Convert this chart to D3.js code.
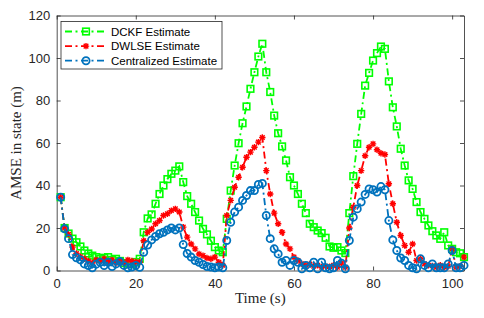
<!DOCTYPE html>
<html><head><meta charset="utf-8">
<script src="https://cdn.jsdelivr.net/npm/d3@7"></script>
<style>body{margin:0;background:#fff}svg{display:block}</style>
</head><body><svg id="c" width="484" height="318"></svg>
<script>
const time = d3.range(1, 104);
const dckf = [34.5,20,17.4,15,13.3,11.3,9.4,8,7,6.3,5.5,6,6.3,5,5.5,4.5,3.5,3.2,3,4,5.5,
  18,24.5,26.4,31.4,36,40,43,45.5,47,49,41.6,35,31.4,27.5,23.5,19.6,17,14,11,9.4,8.6,
  24.3,37.6,49.4,59.9,69.3,77.2,85.5,93.3,100.7,106.7,
  93.3,84,72.9,64.6,58.4,51.8,43.9,40,36,31.4,27,22,20.4,18.8,17.6,15.4,11.3,10.7,11,9.4,8.2,
  27,44.4,59.6,73.7,87,93,98.8,102.3,105.4,104.3,
  89,76.8,67.8,57.3,49.4,42.4,38.4,32.2,27.5,24.3,21.2,18.5,16.5,14.9,18,11.8,10.2,8.6,8.1,6.3];
const dwlse = [34.5,20,17,11,8,6.5,5.5,4.5,3.5,5,4.5,5.5,4,5,3.5,4.5,3.5,5,4.5,4,4,
  14,18,19.5,22,23.5,25.9,26.7,28.2,29,27.5,20.4,15.7,12.5,10.2,7.8,7,5.9,5.5,6.3,3.9,2.5,
  25.9,33,39.2,43.9,48.6,53.3,55.7,58,60.4,62.6,
  47,36,27,22,18,12.5,10.2,6.3,4.7,3.1,2.5,3,2,2.5,1.5,2,1.8,2.5,1.5,3.5,1.5,
  20,29.8,40,47,54,58,59.6,56.8,55.2,54.6,
  40.8,31.4,22.7,16.5,11.8,8.6,12.5,4.7,5.5,3.1,2.5,2.2,1.5,2.5,1.5,2,10.2,1.6,2,6.3];
const centralized = [34.5,19.6,15,7.5,6,5,3.1,2.3,1.3,3,3.9,2.3,3.9,1.9,3.1,4.2,2.4,1.3,1.6,2.4,1.5,
  8.6,12,14.4,16,17.3,18,19.1,20,19.1,20,12.2,8,6.3,4.7,3.9,2.8,1.9,1.6,1.3,1.6,1.3,
  14.1,22.7,27.5,29.8,33,35.3,37.6,37.6,40.5,41,
  25.9,15,10.2,7.8,3.9,4.7,2.4,4.7,3.9,0.8,2.4,1.3,3.9,0.8,3.9,1.3,0.8,1.3,4.7,3.4,0.8,
  14.1,25.1,29,32.2,35.8,38.4,38,36.9,39.5,38,
  23.5,14.4,9.4,5.9,4.7,2.4,1.3,0.8,5.5,2.4,1.3,3.1,1.3,1.3,1.3,3.1,9.4,1.3,1.3,2.4];
const seriesNames = ["DCKF Estimate", "DWLSE Estimate", "Centralized Estimate"];
const seriesColors = ["#00ff00", "#ff0000", "#0072bd"];
const seriesMarkers = ["square", "star", "circle"];
const xTicks = [0, 20, 40, 60, 80, 100];
const yTicks = [0, 20, 40, 60, 80, 100, 120];
const xLabel = "Time (s)";
const yLabel = "AMSE in state (m)";

const svg = d3.select("#c");
const L = 56.7, R = 464, T = 15.5, B = 270.5;
const x = d3.scaleLinear().domain([0, 103]).range([L, R]);
const y = d3.scaleLinear().domain([0, 120]).range([B, T]);
const axisColor = "#262626";
const tickFont = "'Liberation Sans', Arial, sans-serif";
const serif = "'Liberation Serif', 'Times New Roman', serif";
const dash = "7,3.5,2,3.5";

// axes
const gx = svg.append("g").attr("transform", `translate(0,${B})`)
  .call(d3.axisBottom(x).tickValues(xTicks).tickSizeInner(-4).tickSizeOuter(0).tickPadding(8.5));
const gy = svg.append("g").attr("transform", `translate(${L},0)`)
  .call(d3.axisLeft(y).tickValues(yTicks).tickSizeInner(-4).tickSizeOuter(0).tickPadding(6.5));
const gxt = svg.append("g").attr("transform", `translate(0,${T})`)
  .call(d3.axisTop(x).tickValues(xTicks).tickSizeInner(-4).tickSizeOuter(0).tickFormat(""));
const gyr = svg.append("g").attr("transform", `translate(${R},0)`)
  .call(d3.axisRight(y).tickValues(yTicks).tickSizeInner(-4).tickSizeOuter(0).tickFormat(""));
[gx, gy, gxt, gyr].forEach(g => {
  g.select(".domain").attr("stroke", axisColor).attr("stroke-width", 0.8);
  g.selectAll(".tick line").attr("stroke", axisColor).attr("stroke-width", 0.8);
  g.selectAll(".tick text").attr("fill", axisColor).style("font-family", tickFont).style("font-size", "13px");
});

// series
const data = [dckf, dwlse, centralized];
const line = d3.line().x((d, i) => x(time[i])).y(d => y(d));
function marker(g, type, color, px, py) {
  if (type === "square") {
    g.append("rect").attr("x", px - 3.3).attr("y", py - 3.3).attr("width", 6.6).attr("height", 6.6)
      .attr("fill", "none").attr("stroke", color).attr("stroke-width", 1.6);
  } else if (type === "circle") {
    g.append("circle").attr("cx", px).attr("cy", py).attr("r", 3.6)
      .attr("fill", "none").attr("stroke", color).attr("stroke-width", 1.8);
  } else {
    const s = 3.2, d = 2.3;
    g.append("path").attr("d", `M${px - s},${py}L${px + s},${py}M${px},${py - s}L${px},${py + s}M${px - d},${py - d}L${px + d},${py + d}M${px - d},${py + d}L${px + d},${py - d}`)
      .attr("stroke", color).attr("stroke-width", 1.4).attr("fill", "none");
  }
}
data.forEach((vals, k) => {
  const g = svg.append("g");
  g.append("path").attr("d", line(vals)).attr("fill", "none")
    .attr("stroke", seriesColors[k]).attr("stroke-width", 1.8)
    .attr("stroke-dasharray", dash);
  vals.forEach((v, i) => marker(g, seriesMarkers[k], seriesColors[k], x(time[i]), y(v)));
});

// labels
svg.append("text").attr("x", (L + R) / 2).attr("y", 303).attr("text-anchor", "middle")
  .style("font-family", serif).style("font-size", "15px")
  .attr("fill", axisColor).text(xLabel);
svg.append("text").attr("transform", `translate(21,${(T + B) / 2}) rotate(-90)`).attr("text-anchor", "middle")
  .style("font-family", serif).style("font-size", "15px")
  .attr("fill", axisColor).text(yLabel);

// legend
const lg = svg.append("g");
lg.append("rect").attr("x", 61).attr("y", 21.5).attr("width", 161).attr("height", 47.5)
  .attr("fill", "#fff").attr("stroke", axisColor).attr("stroke-width", 0.8);
seriesNames.forEach((name, k) => {
  const cy = 31.5 + k * 14.6;
  lg.append("line").attr("x1", 65).attr("x2", 107).attr("y1", cy).attr("y2", cy)
    .attr("stroke", seriesColors[k]).attr("stroke-width", 1.8).attr("stroke-dasharray", dash);
  marker(lg, seriesMarkers[k], seriesColors[k], 86, cy);
  lg.append("text").attr("x", 111).attr("y", cy + 4).text(name)
    .style("font-family", tickFont).style("font-size", "11.5px").attr("fill", "#000");
});
</script></body></html>
